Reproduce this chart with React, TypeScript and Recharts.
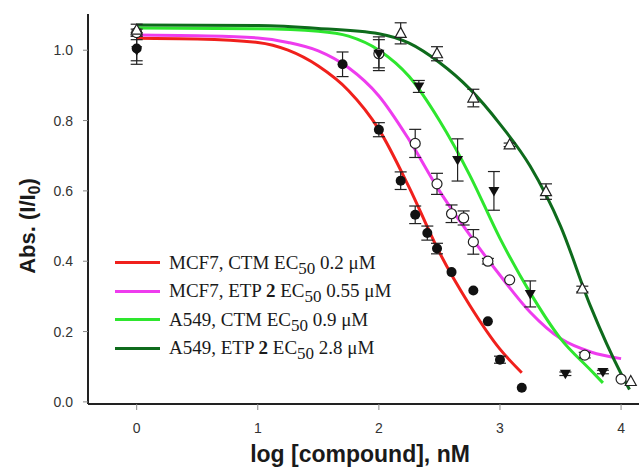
import React from 'react';
import { ComposedChart, Line, Scatter, XAxis, YAxis, ErrorBar, Legend, Label } from 'recharts';

// ---- axis ticks ----
const xTicks = [0, 1, 2, 3, 4];
const yTicks = [0, 0.2, 0.4, 0.6, 0.8, 1.0];

// ---- measured points (log concentration, absorbance, error) ----
const mcf7CtmX = [0, 1.7, 2.0, 2.18, 2.3, 2.4, 2.48, 2.6, 2.78, 2.9, 3.0, 3.18];
const mcf7CtmY = [1.005, 0.96, 0.774, 0.629, 0.532, 0.48, 0.436, 0.369, 0.317, 0.229, 0.12, 0.04];
const mcf7CtmErr = [0.045, 0.035, 0.02, 0.025, 0.025, 0.02, 0.015, 0, 0, 0, 0.01, 0];

const mcf7EtpX = [0, 2.0, 2.3, 2.48, 2.6, 2.7, 2.78, 2.9, 3.08, 3.7, 4.0];
const mcf7EtpY = [1.05, 0.99, 0.735, 0.62, 0.535, 0.523, 0.455, 0.4, 0.347, 0.133, 0.065];
const mcf7EtpErr = [0.01, 0.048, 0.04, 0.03, 0.025, 0.02, 0.035, 0.008, 0, 0.008, 0];

const a549CtmX = [0, 2.0, 2.33, 2.65, 2.95, 3.25, 3.54, 3.85];
const a549CtmY = [1.0, 0.99, 0.897, 0.688, 0.6, 0.307, 0.08, 0.085];
const a549CtmErr = [0.03, 0.04, 0.017, 0.06, 0.055, 0.037, 0.005, 0.005];

const a549EtpX = [0, 2.18, 2.48, 2.78, 3.08, 3.38, 3.68, 4.08];
const a549EtpY = [1.057, 1.048, 0.99, 0.864, 0.731, 0.598, 0.321, 0.058];
const a549EtpErr = [0.017, 0.03, 0.02, 0.025, 0.005, 0.022, 0.008, 0];

// ---- fitted curves ----
const redCurveX = [0, 0.5, 1.0, 1.25, 1.5, 1.75, 2.0, 2.25, 2.5, 2.75, 3.0, 3.18];
const redCurveY = [1.034, 1.032, 1.022, 1.0, 0.955, 0.885, 0.775, 0.61, 0.425, 0.275, 0.15, 0.083];

const magentaCurveX = [0, 0.5, 1.0, 1.25, 1.5, 1.75, 2.0, 2.25, 2.5, 2.75, 3.0, 3.25, 3.5, 3.75, 4.0];
const magentaCurveY = [1.043, 1.041, 1.035, 1.022, 0.998, 0.95, 0.87, 0.745, 0.6, 0.475, 0.36, 0.255, 0.18, 0.142, 0.123];

const greenCurveX = [0, 1.0, 1.5, 1.75, 2.0, 2.25, 2.5, 2.75, 3.0, 3.25, 3.5, 3.75, 3.85];
const greenCurveY = [1.063, 1.061, 1.054, 1.04, 1.0, 0.925, 0.8, 0.645, 0.465, 0.31, 0.18, 0.09, 0.054];

const darkCurveX = [0, 1.0, 1.5, 2.0, 2.25, 2.5, 2.75, 3.0, 3.25, 3.5, 3.75, 4.0, 4.07];
const darkCurveY = [1.072, 1.07, 1.062, 1.047, 1.02, 0.965, 0.89, 0.79, 0.67, 0.5, 0.27, 0.08, 0.035];

// ---- colours ----
const RED = '#f0201c';
const MAGENTA = '#ee3cee';
const GREEN = '#2ee62e';
const DARK = '#0e6b1c';

const zipPts = (xs: number[], ys: number[], es?: number[]) =>
  xs.map((x, i) => ({ x, y: ys[i], err: es ? es[i] : 0 }));

const mcf7Ctm = zipPts(mcf7CtmX, mcf7CtmY, mcf7CtmErr);
const mcf7Etp = zipPts(mcf7EtpX, mcf7EtpY, mcf7EtpErr);
const a549Ctm = zipPts(a549CtmX, a549CtmY, a549CtmErr);
const a549Etp = zipPts(a549EtpX, a549EtpY, a549EtpErr);
const redCurve = zipPts(redCurveX, redCurveY);
const magentaCurve = zipPts(magentaCurveX, magentaCurveY);
const greenCurve = zipPts(greenCurveX, greenCurveY);
const darkCurve = zipPts(darkCurveX, darkCurveY);

const legendRows = [
  { color: RED, pre: 'MCF7, CTM', bold: '', value: '0.2' },
  { color: MAGENTA, pre: 'MCF7, ETP', bold: '2', value: '0.55' },
  { color: GREEN, pre: 'A549, CTM', bold: '', value: '0.9' },
  { color: DARK, pre: 'A549, ETP', bold: '2', value: '2.8' },
];

const FilledCircle = (p: any) => <circle cx={p.cx} cy={p.cy} r={5} fill="#111" />;
const OpenCircle = (p: any) => <circle cx={p.cx} cy={p.cy} r={5} fill="#fff" stroke="#222" strokeWidth={1.2} />;
const DownTri = (p: any) => (
  <path d={`M${p.cx - 5.5},${p.cy - 4} L${p.cx + 5.5},${p.cy - 4} L${p.cx},${p.cy + 5.5} Z`} fill="#111" />
);
const UpTri = (p: any) => (
  <path d={`M${p.cx},${p.cy - 6} L${p.cx + 5.5},${p.cy + 4} L${p.cx - 5.5},${p.cy + 4} Z`} fill="#fff" stroke="#222" strokeWidth={1.2} />
);

const renderLegend = () => (
  <div style={{ fontFamily: '"Liberation Serif", "Times New Roman", serif', fontSize: 19, color: '#1a1a1a' }}>
    {legendRows.map((r) => (
      <div key={r.pre + r.value} style={{ display: 'flex', alignItems: 'center', height: 28.5, whiteSpace: 'nowrap' }}>
        <span style={{ display: 'inline-block', width: 45, height: 3, background: r.color, marginRight: 9 }} />
        <span>
          {r.pre}
          {r.bold ? <> <b>{r.bold}</b></> : null} EC
          <span style={{ fontSize: 17, position: 'relative', top: 5 }}>50</span> {r.value} μM
        </span>
      </div>
    ))}
  </div>
);

const XLabel = () => (
  <text x={360} y={462} textAnchor="middle" style={{ fontFamily: '"Liberation Sans", Arial, sans-serif', fontWeight: 700, fontSize: 23, fill: '#1a1a1a' }}>
    log [compound], nM
  </text>
);

const YLabel = () => (
  <text x={35} y={226} transform="rotate(-90 35 226)" textAnchor="middle" style={{ fontFamily: '"Liberation Sans", Arial, sans-serif', fontWeight: 700, fontSize: 22, fill: '#1a1a1a' }}>
    Abs. (I/I<tspan fontSize={16} dy={5}>0</tspan><tspan dy={-5}>)</tspan>
  </text>
);

const tickStyle = { fill: '#333', fontSize: 14, fontFamily: '"Liberation Sans", Arial, sans-serif' };

export default function App() {
  return (
    <div style={{ position: 'absolute', left: 0, top: 0, width: 639, height: 469, background: '#fff' }}>
      <ComposedChart width={639} height={469} margin={{ top: 14, right: 0, bottom: 0, left: 0 }}>
        <XAxis
          type="number"
          dataKey="x"
          domain={[-0.402, 4.148]}
          allowDataOverflow
          ticks={xTicks}
          height={65}
          axisLine={{ stroke: '#222', strokeWidth: 2 }}
          tickLine={{ stroke: '#888' }}
          tickSize={6}
          tickMargin={13}
          tick={tickStyle}
        >
          <Label content={XLabel} />
        </XAxis>
        <YAxis
          type="number"
          dataKey="y"
          domain={[-0.006, 1.103]}
          allowDataOverflow
          ticks={yTicks}
          width={88}
          tickFormatter={(v: number) => v.toFixed(1)}
          axisLine={{ stroke: '#222', strokeWidth: 2 }}
          tickLine={{ stroke: '#888' }}
          tickSize={5}
          tickMargin={10}
          tick={tickStyle}
        >
          <Label content={YLabel} />
        </YAxis>
        <Legend
          content={renderLegend}
          layout="vertical"
          align="center"
          verticalAlign="middle"
          wrapperStyle={{ left: 115, top: 248.5, width: 330 }}
        />
        <Line data={redCurve} dataKey="y" type="monotone" stroke={RED} strokeWidth={3} dot={false} isAnimationActive={false} />
        <Line data={magentaCurve} dataKey="y" type="monotone" stroke={MAGENTA} strokeWidth={3} dot={false} isAnimationActive={false} />
        <Line data={greenCurve} dataKey="y" type="monotone" stroke={GREEN} strokeWidth={3} dot={false} isAnimationActive={false} />
        <Line data={darkCurve} dataKey="y" type="monotone" stroke={DARK} strokeWidth={3} dot={false} isAnimationActive={false} />
        <Scatter data={mcf7Ctm} dataKey="y" shape={FilledCircle} isAnimationActive={false}>
          <ErrorBar dataKey="err" direction="y" width={6} stroke="#222" strokeWidth={1.2} />
        </Scatter>
        <Scatter data={mcf7Etp} dataKey="y" shape={OpenCircle} isAnimationActive={false}>
          <ErrorBar dataKey="err" direction="y" width={6} stroke="#222" strokeWidth={1.2} />
        </Scatter>
        <Scatter data={a549Ctm} dataKey="y" shape={DownTri} isAnimationActive={false}>
          <ErrorBar dataKey="err" direction="y" width={6} stroke="#222" strokeWidth={1.2} />
        </Scatter>
        <Scatter data={a549Etp} dataKey="y" shape={UpTri} isAnimationActive={false}>
          <ErrorBar dataKey="err" direction="y" width={6} stroke="#222" strokeWidth={1.2} />
        </Scatter>
      </ComposedChart>
    </div>
  );
}
